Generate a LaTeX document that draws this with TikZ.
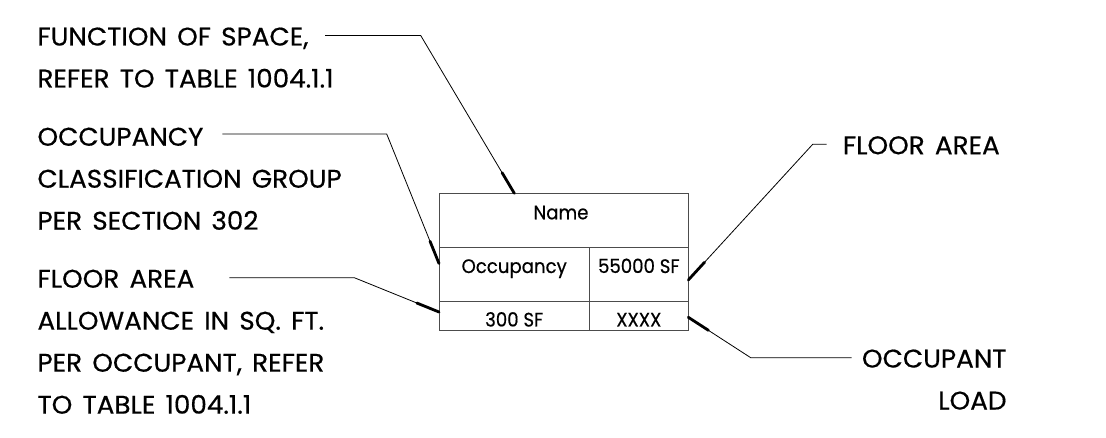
\documentclass[tikz,border=0pt]{standalone}
\usepackage{fontspec}
\setmainfont{Poppins}[FakeBold=0.5]
\newfontfamily\notefont{Poppins}[FakeBold=0.5, FakeStretch=1.03, WordSpace=1.45]
\newfontfamily\cellfont{Poppins}[FakeBold=0.5, FakeStretch=0.93]
\usetikzlibrary{calc}

\tikzset{
  note/.style = {anchor=north west, inner sep=0pt, align=left, font=\notefont\fontsize{25.5}{42}\selectfont},
  cell/.style = {anchor=base, inner sep=0pt, font=\cellfont\fontsize{19.5}{24}\selectfont},
  leader/.style = {line width=0.8pt},
  tick/.style = {line width=2.8pt, line cap=round},
  grid/.style = {draw=black!70, line width=1pt}
}

\begin{document}
\begin{tikzpicture}[x=1pt, y=-1pt]
    \useasboundingbox (0,0) rectangle (1106,438);
    % Draw the table
    \draw[grid] (439,193.3) rectangle (688.3,331);
    \draw[grid] (439,247.3) -- (688.3,247.3);
    \draw[grid] (439,301.7) -- (688.3,301.7);
    \draw[grid] (589.3,247.3) -- (589.3,331);
    % Table entries
    \node[cell] (name) at (561,219.3) {Name};
    \node[cell] (occ) at (514.2,273) {Occupancy};
    \node[cell] (area) at (638.8,273) {55000 SF};
    \node[cell] (allow) at (514.2,326.5) {300 SF};
    \node[cell] (load) at (638.8,326.5) {XXXX};
    % Labels
    \node[note] (fnlbl) at (37.3,27.3) {FUNCTION OF SPACE,\\REFER TO TABLE 1004.1.1};
    \node[note] (occlbl) at (37.3,127.5) {OCCUPANCY\\CLASSIFICATION GROUP\\PER SECTION 302};
    \node[note] (allowlbl) at (37.3,269.5) {FLOOR AREA\\ALLOWANCE IN SQ. FT.\\PER OCCUPANT, REFER\\TO TABLE 1004.1.1};
    \node[note, anchor=west] (arealbl) at (842.7,145.3) {FLOOR AREA};
    \node[note, anchor=north east, align=right] (loadlbl) at (1006.7,349.3) {OCCUPANT\\LOAD};
    % Leader points
    \coordinate (fnA) at (325,35.5);    \coordinate (fnB) at (420.7,35.5);  \coordinate (fnC) at (514.3,193.3);
    \coordinate (occA) at (222.3,134);  \coordinate (occB) at (386.7,134);  \coordinate (occC) at (439,263.5);
    \coordinate (alA) at (229.3,277.7); \coordinate (alB) at (354.3,277.7); \coordinate (alC) at (439,312);
    \coordinate (arA) at (826.7,144.3); \coordinate (arB) at (812.7,144.3); \coordinate (arC) at (688.3,280);
    \coordinate (ldA) at (851.7,357.7); \coordinate (ldB) at (750.7,357.7); \coordinate (ldC) at (688.3,317.3);
    % Draw the leaders
    \foreach \p in {fn, occ, al, ar, ld} {
      \draw[leader] (\p A) -- (\p B) -- (\p C);
      \draw[tick] (\p C) -- ($(\p C)!24pt!(\p B)$);
    }
\end{tikzpicture}
\end{document}
